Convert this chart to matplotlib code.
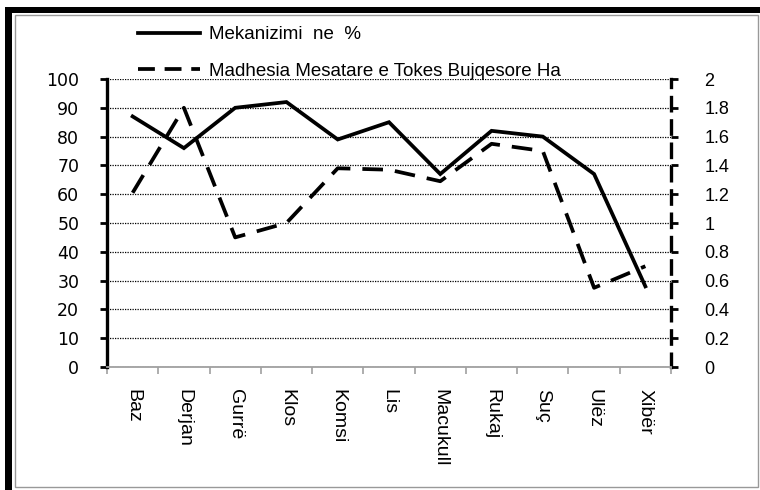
import matplotlib
matplotlib.use("Agg")
import matplotlib.pyplot as plt
from matplotlib.lines import Line2D
from matplotlib.patches import Rectangle
import numpy as np

# data
villages = ["Baz", "Derjan", "Gurrë", "Klos", "Komsi", "Lis", "Macukull",
            "Rukaj", "Suç", "Ulëz", "Xibër"]
mekanizimi = [87, 76, 90, 92, 79, 85, 67, 82, 80, 67, 28]
madhesia = [1.21, 1.8, 0.9, 1.0, 1.38, 1.37, 1.29, 1.55, 1.5, 0.55, 0.7]

left_ticks = [0, 10, 20, 30, 40, 50, 60, 70, 80, 90, 100]
right_ticks = [0, 0.2, 0.4, 0.6, 0.8, 1, 1.2, 1.4, 1.6, 1.8, 2]

label_1 = "Mekanizimi  ne  %"
label_2 = "Madhesia Mesatare e Tokes Bujqesore Ha"

W, H = 760, 490
dash = (0, (5.5, 3.2))
lw = 2.7

fig = plt.figure(figsize=(W / 100, H / 100), dpi=100)

# frame: heavy black on top/left, thin grey box inside
fig.patches.append(Rectangle((5 / W, 1 - 13 / H), 1 - 5 / W, 6 / H,
                             transform=fig.transFigure, color="black", lw=0))
fig.patches.append(Rectangle((5 / W, 0), 7 / W, 1 - 7 / H,
                             transform=fig.transFigure, color="black", lw=0))
fig.patches.append(Rectangle((15 / W, 3 / H), 743 / W, 1 - 18 / H,
                             transform=fig.transFigure, fill=False,
                             edgecolor="#999999", lw=1))

ax = fig.add_axes([107 / W, 1 - 367 / H, 564 / W, 288 / H])
ax2 = ax.twinx()
ax.set_zorder(ax2.get_zorder() + 1)
ax.patch.set_visible(False)

x = np.arange(len(villages))
ax.plot(x, mekanizimi, color="black", lw=lw, solid_joinstyle="miter")
ax2.plot(x, madhesia, color="black", lw=lw, ls=dash)

ax.set_xlim(-0.5, len(villages) - 0.5)
ax.set_ylim(0, 100)
ax2.set_ylim(0, 2)

ax.set_yticks(left_ticks)
ax.set_yticklabels([str(v) for v in left_ticks], fontsize=12.5,
                   family="DejaVu Sans")
ax2.set_yticks(right_ticks)
ax2.set_yticklabels([f"{v:g}" for v in right_ticks], fontsize=13,
                    family="Liberation Sans")

ax.set_xticks(x)
ax.set_xticklabels(villages, rotation=270, fontsize=14,
                   family="Liberation Sans")
ax.set_xticks(np.arange(-0.5, len(villages)), minor=True)
ax.tick_params(axis="x", which="major", length=0, pad=16)
ax.tick_params(axis="x", which="minor", length=5, color="#a0a0a0", width=1.2)
ax.tick_params(axis="y", length=5, width=2, pad=15)
ax2.tick_params(axis="y", length=5, width=2, pad=19)

ax.grid(axis="y", color="black", ls=(0, (1, 1)), lw=0.9)

for s in ["top", "right"]:
    ax.spines[s].set_visible(False)
for s in ["top", "left", "bottom"]:
    ax2.spines[s].set_visible(False)
ax.spines["left"].set_linewidth(2.4)
ax.spines["bottom"].set_color("#a0a0a0")
ax.spines["bottom"].set_linewidth(1.3)
ax2.spines["right"].set_linewidth(2.4)
ax2.spines["right"].set_linestyle((0, (4, 3)))

handles = [Line2D([], [], color="black", lw=lw),
           Line2D([], [], color="black", lw=lw, ls=(0, (4.5, 2.6)))]
fig.legend(handles, [label_1, label_2], loc="upper left",
           bbox_to_anchor=(138 / W, 1 - 26 / H), frameon=False,
           prop={"family": "Liberation Sans", "size": 13.5},
           handlelength=3.3, handletextpad=0.5, labelspacing=1.05,
           borderpad=0, borderaxespad=0)

fig.savefig("out.png", dpi=100)
